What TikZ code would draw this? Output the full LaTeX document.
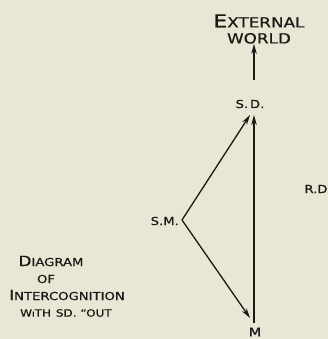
\documentclass[tikz,border=0pt]{standalone}
\usepackage{fontspec}
\setmainfont{DejaVu Sans}[FakeStretch=1.2,FakeBold=0.6]
\usetikzlibrary{arrows.meta}
\definecolor{paper}{RGB}{232,230,212}
\definecolor{ink}{RGB}{25,25,22}
\newcommand{\fs}[1]{\fontsize{#1}{#1}\selectfont}
\begin{document}
\begin{tikzpicture}[x=1pt,y=1pt,
  lbl/.style={inner sep=0pt,text=ink},
  conn/.style={draw=ink,line width=1.3pt,-{Stealth[length=10pt,width=5.5pt]}}]
\fill[paper] (0,0) rectangle (328,339);
\useasboundingbox (0,0) rectangle (328,339);
\node[lbl,align=center] (ext) at (259,310) {{\fs{18}E}{\fs{14}XTERNAL}\\[4pt]{\fs{14}WORLD}};
\coordinate (exs) at (254,259);
\node[lbl] (sd) at (250,235) {\fs{11}S.\,D.};
\node[lbl,anchor=east] (sm) at (179,118) {\fs{11}S.M.};
\coordinate (v) at (182,119);
\node[lbl] (m) at (255,7) {\fs{12}M};
\coordinate (mtop) at (254,16);
\coordinate (sdb) at (254,224);
\coordinate (sdl) at (250,224);
\coordinate (ml) at (250,21);
\node[lbl] (rd) at (316,150) {\fs{11}R.D};
\node[lbl] (d1) at (51,78) {{\fs{14}D}{\fs{11}IAGRAM}};
\node[lbl] (d2) at (46,60) {\fs{11}OF};
\node[lbl] (d3) at (67,44) {{\fs{14}I}{\fs{11}NTERCOGNITION}};
\node[lbl] (d4) at (66,26) {\fs{10}W{\fs{7}I}TH\enspace SD. ``OUT};
\draw[conn] (exs) -- (ext.south -| exs);
\draw[conn] (mtop) -- (sdb);
\draw[conn] (v) -- (sdl);
\draw[conn] (v) -- (ml);
\end{tikzpicture}
\end{document}
